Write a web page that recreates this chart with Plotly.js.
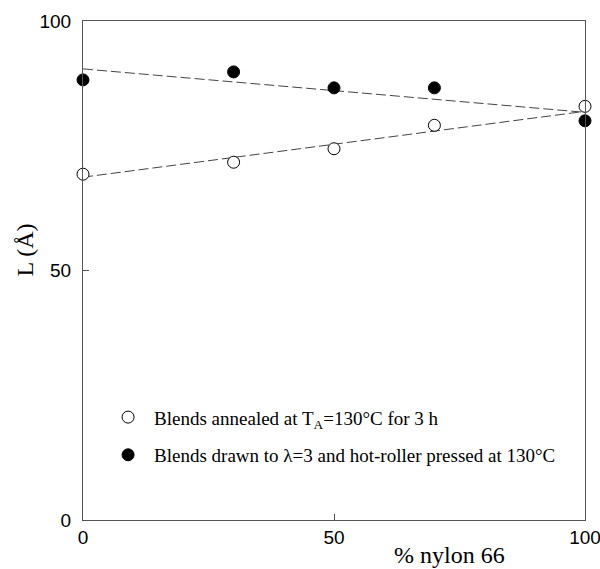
<!DOCTYPE html>
<html><head><meta charset="utf-8">
<script src="https://cdn.plot.ly/plotly-3.0.1.min.js"></script>
<style>html,body{margin:0;padding:0;background:#fff}</style>
</head><body><div id="chart" style="width:600px;height:569px"></div>
<script>
const nylon = [0, 30, 50, 70, 100];
const annealedL = [69.3, 71.7, 74.4, 79.1, 82.9];
const drawnL = [88.2, 89.8, 86.6, 86.6, 80.0];
const fitX = [0, 100];
const fitAnnealed = [68.7, 81.9];
const fitDrawn = [90.4, 81.7];
const xTicks = [0, 50, 100];
const yTicks = [0, 50, 100];
const xTitle = '% nylon 66';
const yTitle = 'L (Å)';
const nameAnnealed = 'Blends annealed at T<sub>A</sub>=130°C for 3 h';
const nameDrawn = 'Blends drawn to λ=3 and hot-roller pressed at 130°C';

const serif = 'Liberation Serif';
const dashLine = {color: '#444', width: 1, dash: '10px,4px'};
const traces = [
  {x: fitX, y: fitDrawn, mode: 'lines', line: dashLine, showlegend: false, hoverinfo: 'skip'},
  {x: fitX, y: fitAnnealed, mode: 'lines', line: dashLine, showlegend: false, hoverinfo: 'skip'},
  {x: nylon, y: annealedL, mode: 'markers', name: nameAnnealed, legendgroup: 'a',
   marker: {symbol: 'circle', size: 12, color: '#fff', line: {color: '#000', width: 1}}, cliponaxis: false},
  {x: nylon, y: drawnL, mode: 'markers', name: nameDrawn, legendgroup: 'b',
   marker: {symbol: 'circle', size: 12, color: '#000', line: {color: '#000', width: 1}}, cliponaxis: false}
];
const axisCommon = {
  showgrid: false, zeroline: false, showline: true, linecolor: '#555', linewidth: 1,
  mirror: true, ticks: 'inside', ticklen: 6, tickcolor: '#555',
  ticklabeloverflow: 'allow',
  tickfont: {family: 'Liberation Sans', size: 19, color: '#000'}
};
const layout = {
  width: 600, height: 569,
  margin: {l: 83, r: 15, t: 21, b: 49},
  paper_bgcolor: '#fff', plot_bgcolor: '#fff',
  xaxis: Object.assign({}, axisCommon, {range: [0, 100], tickvals: xTicks, ticktext: xTicks.map(String)}),
  yaxis: Object.assign({}, axisCommon, {range: [0, 100], tickvals: yTicks, ticktext: yTicks.map(String),
    ticklabelstandoff: 7}),
  legend: {x: 0.038, y: 0.244, xanchor: 'left', yanchor: 'top', bgcolor: 'rgba(0,0,0,0)',
    traceorder: 'grouped', tracegroupgap: 10, itemwidth: 42,
    font: {family: serif, size: 19, color: '#000'}},
  annotations: [{
    text: xTitle, xref: 'paper', yref: 'paper', x: 0.731, y: 0, yshift: -20,
    xanchor: 'center', yanchor: 'top', showarrow: false,
    font: {family: serif, size: 24, color: '#000'}
  }, {
    text: yTitle, xref: 'paper', yref: 'paper', x: -0.1155, y: 0.54, textangle: -90,
    xanchor: 'center', yanchor: 'middle', showarrow: false,
    font: {family: serif, size: 24, color: '#000'}
  }]
};
Plotly.newPlot('chart', traces, layout, {staticPlot: true});
</script></body></html>
